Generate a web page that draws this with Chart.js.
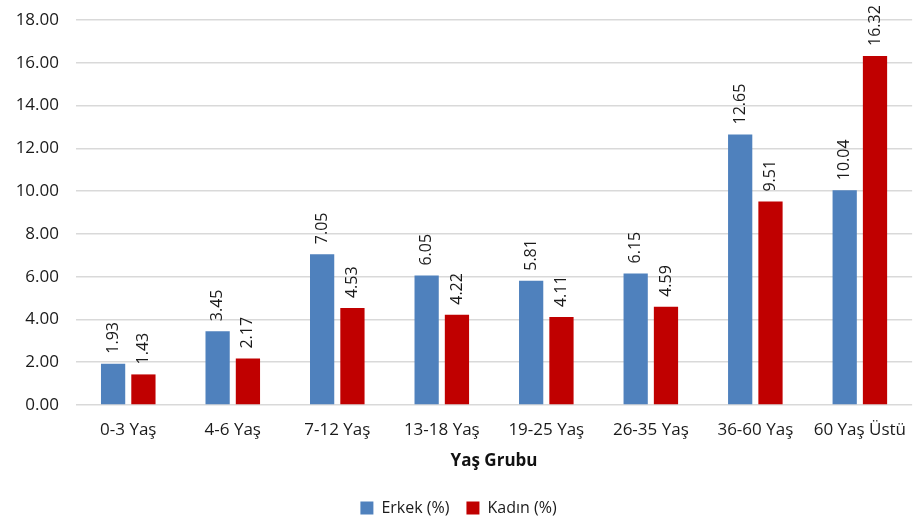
<!DOCTYPE html>
<html>
<head>
<meta charset="utf-8">
<script src="https://cdn.jsdelivr.net/npm/chart.js@4/dist/chart.umd.min.js"></script>
<style>
  html, body { margin: 0; padding: 0; background: #fff; }
  #wrap { width: 913px; height: 523px; }
</style>
</head>
<body>
<div id="wrap"><canvas id="ageChart" width="913" height="523"></canvas></div>
<script>
// Age group shares
var categories = ['0-3 Yaş', '4-6 Yaş', '7-12 Yaş', '13-18 Yaş', '19-25 Yaş', '26-35 Yaş', '36-60 Yaş', '60 Yaş Üstü'];
var erkek = [1.93, 3.45, 7.05, 6.05, 5.81, 6.15, 12.65, 10.04];
var kadin = [1.43, 2.17, 4.53, 4.22, 4.11, 4.59, 9.51, 16.32];
var yTicks = [0, 2, 4, 6, 8, 10, 12, 14, 16, 18];

var FONT = "'Open Sans', sans-serif";
var TEXT = '#1a1a1a';

// rotated value labels above bars
var barLabels = {
  id: 'barLabels',
  afterDatasetsDraw: function (chart) {
    var ctx = chart.ctx;
    ctx.save();
    ctx.font = '16px ' + FONT;
    ctx.fillStyle = TEXT;
    ctx.textAlign = 'left';
    ctx.textBaseline = 'middle';
    chart.data.datasets.forEach(function (ds, i) {
      chart.getDatasetMeta(i).data.forEach(function (bar, j) {
        ctx.save();
        ctx.translate(bar.x, bar.y - 10);
        ctx.rotate(-Math.PI / 2);
        ctx.fillText(ds.data[j].toFixed(2), 0, 0);
        ctx.restore();
      });
    });
    ctx.restore();
  }
};

new Chart(document.getElementById('ageChart').getContext('2d'), {
  type: 'bar',
  data: {
    labels: categories,
    datasets: [{
      label: 'Erkek (%)',
      backgroundColor: '#4F81BD',
      data: erkek
    }, {
      label: 'Kadın (%)',
      backgroundColor: '#C00000',
      data: kadin
    }]
  },
  options: {
    responsive: false,
    animation: false,
    categoryPercentage: 0.58,
    barPercentage: 0.8,
    layout: { padding: { top: 0, right: 0, left: 4, bottom: 0 } },
    plugins: {
      legend: {
        display: true,
        position: 'bottom',
        maxHeight: 40,
        labels: {
          font: { family: FONT, size: 16 },
          color: TEXT,
          boxWidth: 13,
          boxHeight: 13,
          padding: 17
        }
      },
      tooltip: { enabled: false }
    },
    scales: {
      x: {
        grid: { display: false },
        border: { display: false },
        afterFit: function (scale) { scale.height = 78; },
        ticks: { font: { family: FONT, size: 17 }, color: TEXT, maxRotation: 0, padding: 7 },
        title: {
          display: true,
          text: 'Yaş Grubu',
          font: { family: FONT, size: 17, weight: 'bold' },
          color: '#111',
          padding: { top: 6, bottom: 12 }
        }
      },
      y: {
        min: 0,
        max: 18,
        afterBuildTicks: function (scale) {
          scale.ticks = yTicks.map(function (v) { return { value: v }; });
        },
        afterFit: function (scale) { scale.width = 72; scale.paddingTop = 20; },
        grid: { color: '#d9d9d9', lineWidth: 1.5, drawTicks: false },
        border: { display: false },
        ticks: {
          font: { family: FONT, size: 17, lineHeight: 1 },
          color: TEXT,
          padding: 17,
          callback: function (v) { return v.toFixed(2); }
        }
      }
    }
  },
  plugins: [barLabels]
});
</script>
</body>
</html>
